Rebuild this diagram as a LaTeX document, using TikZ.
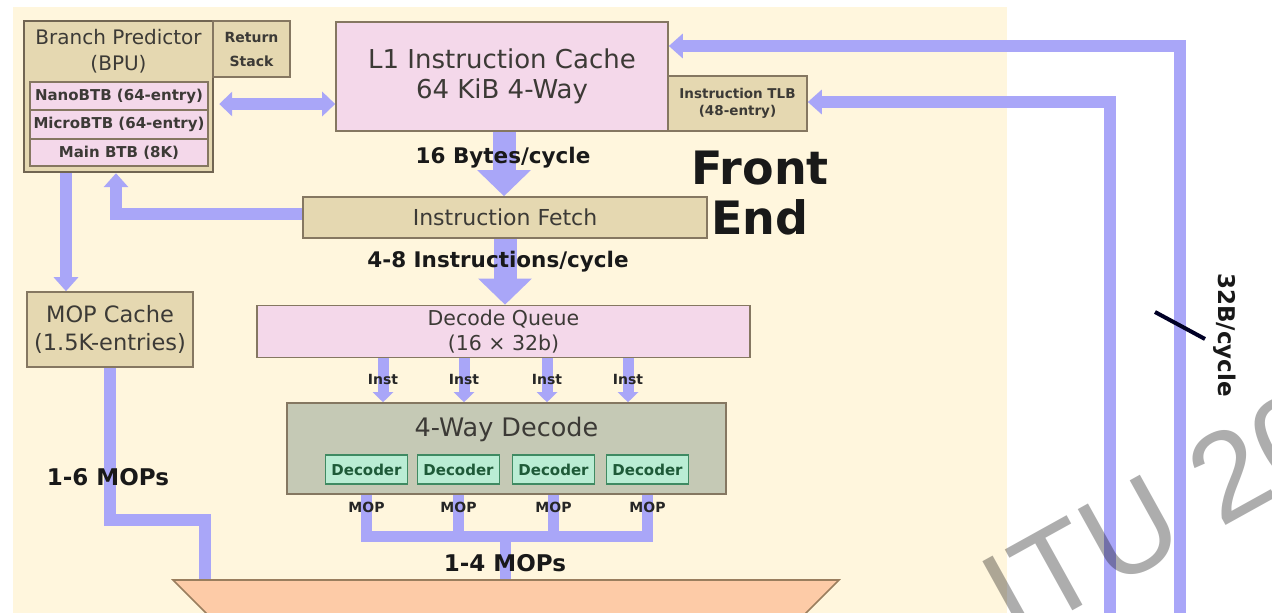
\documentclass[tikz,border=0pt]{standalone}
\usepackage{fontspec}
\setmainfont{DejaVu Sans}
\newfontfamily\wmfont{Liberation Sans}
\usetikzlibrary{arrows.meta}

\definecolor{cream}{HTML}{FFF6DD}
\definecolor{tanfill}{HTML}{E5D8B1}
\definecolor{pinkfill}{HTML}{F4D8EA}
\definecolor{boxline}{HTML}{857761}
\definecolor{buscol}{HTML}{A9A6F8}
\definecolor{decfill}{HTML}{C5C9B5}
\definecolor{unitfill}{HTML}{BAEDD4}
\definecolor{unitline}{HTML}{3F8A62}
\definecolor{unittext}{HTML}{1E5A38}
\definecolor{schedfill}{HTML}{FDCBA7}
\definecolor{schedline}{HTML}{9A7E5E}
\definecolor{boxtext}{HTML}{3C3A36}

\newcommand{\fsz}[2]{\fontsize{#1}{#2}\selectfont}

\tikzset{
  box/.style={draw=boxline, line width=1.6pt, inner sep=0pt, align=center, text=boxtext},
  tanbox/.style={box, fill=tanfill},
  pinkbox/.style={box, fill=pinkfill},
  unit/.style={draw=unitline, fill=unitfill, line width=1.4pt, minimum width=82pt,
    minimum height=29pt, inner sep=0pt, font=\bfseries\fsz{15}{18}, text=unittext},
  flow/.style={draw=buscol, line width=12pt},
  thinflow/.style={draw=buscol, line width=11pt},
  wideflow/.style={draw=buscol, line width=23pt},
  smallhead/.style={-{Triangle[width=24pt,length=14pt]}},
  twohead/.style={{Triangle[width=24pt,length=13pt]}-{Triangle[width=24pt,length=13pt]}},
  bighead/.style={-{Triangle[width=52pt,length=26pt]}},
  insthead/.style={-{Triangle[width=20pt,length=10pt]}},
  lbl/.style={inner sep=0pt, text=black!90, font=\bfseries\fsz{21.5}{24}},
  tiny/.style={inner sep=0pt, text=black!85, font=\bfseries\fsz{14}{16}}
}

\begin{document}
\begin{tikzpicture}[x=1pt, y=-1pt]
\useasboundingbox (0,0) rectangle (1272,613);
\clip (0,0) rectangle (1272,613);
\fill[white] (0,0) rectangle (1272,613);

% front-end area
\fill[cream] (13,7) rectangle (1007,625);

% branch predictor
\node[tanbox, line width=2.4pt, draw=boxline!85!black, minimum width=189pt, minimum height=151pt] (bpu) at (118.5,96.5) {};
\node[box, draw=none, font=\fsz{20}{26}] (bputitle) at (118.5,51) {Branch Predictor\\(BPU)};
\node[tanbox, minimum width=77pt, minimum height=56pt, font=\bfseries\fsz{14}{24}] (ret) at (251.5,49) {Return\\Stack};
\node[pinkbox, minimum width=178pt, minimum height=28pt, font=\bfseries\fsz{15}{18}] (nano) at (119,96) {NanoBTB (64-entry)};
\node[pinkbox, minimum width=178pt, minimum height=28pt, font=\bfseries\fsz{15}{18}] (micro) at (119,124.5) {MicroBTB (64-entry)};
\node[pinkbox, minimum width=178pt, minimum height=27pt, font=\bfseries\fsz{15}{18}] (mainbtb) at (119,152.5) {Main BTB (8K)};

% instruction cache and TLB
\node[pinkbox, minimum width=332pt, minimum height=109pt, font=\fsz{26}{30}] (l1) at (502,76.5) {L1 Instruction Cache\\64 KiB 4-Way};
\node[tanbox, minimum width=139pt, minimum height=55pt, font=\bfseries\fsz{13.5}{17}] (tlb) at (737.5,103.5) {Instruction TLB\\(48-entry)};

% fetch, op cache, queue
\node[tanbox, minimum width=404pt, minimum height=41pt, font=\fsz{22}{26}] (fetch) at (505,217.5) {Instruction Fetch};
\node[tanbox, minimum width=166pt, minimum height=75pt, font=\fsz{22.5}{28}] (mopc) at (110,329.5) {MOP Cache\\(1.5K-entries)};
\node[pinkbox, minimum width=493pt, minimum height=52pt, font=\fsz{20.5}{25}] (dq) at (503.5,331.5) {Decode Queue\\(16 × 32b)};

% decode block
\node[box, fill=decfill, minimum width=439pt, minimum height=91pt] (fwd) at (506.5,448.5) {};
\node[inner sep=0pt, text=boxtext, font=\fsz{25.5}{30}] (fwdtitle) at (506.5,429) {4-Way Decode};
\node[unit] (dec1) at (366.5,469.5) {Decoder};
\node[unit] (dec2) at (458.5,469.5) {Decoder};
\node[unit] (dec3) at (553.5,469.5) {Decoder};
\node[unit] (dec4) at (647.5,469.5) {Decoder};

% connectors
\draw[flow, twohead] ([xshift=5pt,yshift=-7.5pt]bpu.east) -- ([yshift=-7.5pt]bpu.east -| l1.west);
\draw[flow, smallhead] ([xshift=-52.5pt]bpu.south) -- ([xshift=-52.5pt]bpu.south |- mopc.north);
\draw[flow, smallhead] ([yshift=3.5pt]fetch.west) -| ([xshift=-2.5pt]bpu.south);
\draw[wideflow, bighead] ([xshift=2pt]l1.south) -- ([xshift=2pt]l1.south |- fetch.north);
\draw[wideflow, bighead] (fetch.south) -- (fetch.south |- dq.north);
\foreach \dx in {-120.5,-39.5,43.5,124.5}
  \draw[thinflow, insthead] ([xshift=\dx pt]dq.south) -- ([xshift=\dx pt]dq.south |- fwd.north);

\coordinate (merge) at (505,536);
\coordinate (schedA) at (205,580);
\coordinate (schedB) at (505,580);
\foreach \i in {1,...,4}
  \draw[thinflow] (dec\i.south |- fwd.south) |- (merge);
\draw[thinflow] (merge) -- (schedB);
\draw[flow] (mopc.south) -- ++(0,152) -| (schedA);

% memory-side buses
\coordinate (busA) at (1180,630);
\coordinate (busB) at (1110,630);
\draw[flow, smallhead] (busA) |- ([yshift=30.5pt]l1.east);
\draw[flow, smallhead] (busB) |- ([yshift=1.5pt]tlb.east);
\draw[line width=4pt, black!85!blue] (1155,312) -- (1205,339);

% scheduler edge
\filldraw[fill=schedfill, draw=schedline, line width=1.6pt]
  (173,580) -- (839,580) -- (779,640) -- (233,640) -- cycle;

% labels
\node[lbl] (bw16) at (503,158) {16 Bytes/cycle};
\node[lbl] (ipc) at (498,262) {4-8 Instructions/cycle};
\node[lbl, font=\bfseries\fsz{46}{50}, align=center] (fe) at (760,193) {Front\\End};
\node[lbl, font=\bfseries\fsz{23}{26}] (mops6) at (108,477) {1-6 MOPs};
\node[lbl, font=\bfseries\fsz{23}{26}] (mops4) at (505,563) {1-4 MOPs};
\node[lbl, rotate=-90, font=\bfseries\fsz{23}{26}] (buswidth) at (1225,335) {32B/cycle};
\foreach \x [count=\k] in {383,464,547,628}
  \node[tiny] (inst\k) at (\x,379) {Inst};
\foreach \x [count=\k] in {366.5,458.5,553.5,647.5}
  \node[tiny] (mop\k) at (\x,507) {MOP};

% watermark
\node[font=\wmfont\fsz{125}{130}, text=black, opacity=0.32, rotate=29, anchor=base west, inner sep=0pt] (wm) at (1014,643) {ITU 2023};
\end{tikzpicture}
\end{document}
